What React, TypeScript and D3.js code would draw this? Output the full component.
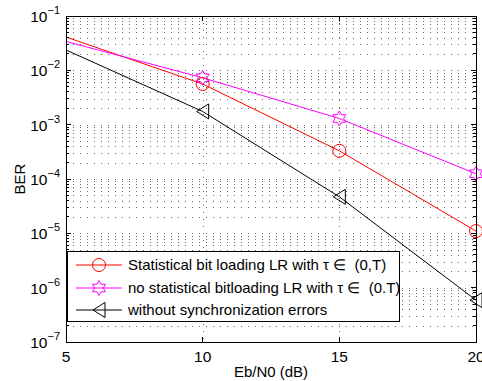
import * as d3 from 'd3';

// Eb/N0 (dB) sample points
const ebn0 = [5, 10, 15, 20];
const xTicks = [5, 10, 15, 20];
const yDecades = [-7, -6, -5, -4, -3, -2, -1];

// BER
const berStatistical = [0.041, 5.6e-3, 3.3e-4, 1.1e-5];
const berNoStatistical = [0.034, 7.3e-3, 1.3e-3, 1.25e-4];
const berNoSync = [0.0237, 1.75e-3, 4.7e-5, 5.9e-7];

const seriesNames = [
  'Statistical bit loading LR with τ ∈\u00a0 (0,T)',
  'no statistical bitloading LR with τ ∈\u00a0 (0.T)',
  'without synchronization errors',
];

const W = 482;
const H = 381;
const FONT = 'Liberation Sans, Arial, Helvetica, sans-serif';

const x = d3.scaleLinear().domain([5, 20]).range([66, 476]);
const y = d3.scaleLog().domain([1e-7, 1e-1]).range([342, 16]);

function hexagram(r: number) {
  const pts: [number, number][] = [];
  for (let i = 0; i < 12; i++) {
    const a = -Math.PI / 2 + (i * Math.PI) / 6;
    const rr = i % 2 === 0 ? r : r / Math.sqrt(3);
    pts.push([rr * Math.cos(a), rr * Math.sin(a)]);
  }
  return 'M' + pts.map(p => p.join(',')).join('L') + 'Z';
}

const triLeft = 'M-6,0L6,-7.5L6,7.5Z';

type Marker = 'circle' | 'hexagram' | 'triangle';

function MarkerShape({ kind, color, cx, cy }: { kind: Marker; color: string; cx: number; cy: number }) {
  if (kind === 'circle') {
    return <circle cx={cx} cy={cy} r={6.5} fill="none" stroke={color} strokeWidth={1} />;
  }
  const d = kind === 'hexagram' ? hexagram(7.5) : triLeft;
  return <path d={d} transform={`translate(${cx},${cy})`} fill="none" stroke={color} strokeWidth={1} />;
}

const series = [
  { name: seriesNames[0], values: berStatistical, color: '#ff0000', marker: 'circle' as Marker },
  { name: seriesNames[1], values: berNoStatistical, color: '#ff00ff', marker: 'hexagram' as Marker },
  { name: seriesNames[2], values: berNoSync, color: '#000000', marker: 'triangle' as Marker },
];

export default function App() {
  const [x0, x1] = x.range();
  const [y0, y1] = y.range();
  const line = d3.line<number>()
    .x((_, i) => x(ebn0[i]))
    .y(d => y(d));

  const minorY: number[] = [];
  yDecades.slice(0, -1).forEach(e => {
    for (let k = 2; k <= 9; k++) minorY.push(k * Math.pow(10, e));
  });
  const majorY = yDecades.map(e => Math.pow(10, e));

  const legendX = 67;
  const legendY = 251;
  const rowY = [265, 288, 310];

  return (
    <svg width={W} height={H} style={{ position: 'fixed', left: 0, top: 0, background: '#fff' }} fontFamily={FONT}>
      <rect x={0} y={0} width={W} height={H} fill="#fff" />
      {/* grid */}
      <g stroke="#666" strokeWidth={1} strokeDasharray="1,6" fill="none">
        {[...majorY, ...minorY].map((v, i) => (
          <line key={'h' + i} x1={x0} x2={x1} y1={Math.round(y(v)) + 0.5} y2={Math.round(y(v)) + 0.5} />
        ))}
        {xTicks.slice(1, -1).map(t => (
          <line key={'v' + t} x1={Math.round(x(t)) + 0.5} x2={Math.round(x(t)) + 0.5} y1={y1} y2={y0} />
        ))}
      </g>
      {/* curves */}
      {series.map(s => (
        <path key={s.name} d={line(s.values) || ''} fill="none" stroke={s.color} strokeWidth={1} />
      ))}
      {series.map(s =>
        s.values.map((v, i) =>
          ebn0[i] > 5 ? <MarkerShape key={s.name + i} kind={s.marker} color={s.color} cx={x(ebn0[i])} cy={y(v)} /> : null
        )
      )}
      {/* axes box and ticks */}
      <g stroke="#000" strokeWidth={1} fill="none" shapeRendering="crispEdges">
        <rect x={x0} y={y1} width={x1 - x0} height={y0 - y1} />
        {xTicks.map(t => (
          <g key={'xt' + t}>
            <line x1={x(t)} x2={x(t)} y1={y0} y2={y0 - 5} />
            <line x1={x(t)} x2={x(t)} y1={y1} y2={y1 + 5} />
          </g>
        ))}
        {majorY.map((v, i) => (
          <g key={'yt' + i}>
            <line x1={x0} x2={x0 + 5} y1={y(v)} y2={y(v)} />
            <line x1={x1} x2={x1 - 5} y1={y(v)} y2={y(v)} />
          </g>
        ))}
        {minorY.map((v, i) => (
          <g key={'ym' + i}>
            <line x1={x0} x2={x0 + 3} y1={y(v)} y2={y(v)} />
            <line x1={x1} x2={x1 - 3} y1={y(v)} y2={y(v)} />
          </g>
        ))}
      </g>
      {/* tick labels */}
      <g fill="#000" fontSize={15.5}>
        {xTicks.map(t => (
          <text key={'xl' + t} x={x(t)} y={362} textAnchor="middle">{t}</text>
        ))}
        {yDecades.map(e => (
          <text key={'yl' + e} x={60} y={y(Math.pow(10, e)) + 6} textAnchor="end">
            <tspan>10</tspan>
            <tspan dy={-8} fontSize={11}>{'−' + Math.abs(e)}</tspan>
          </text>
        ))}
      </g>
      {/* axis labels */}
      <text x={(x0 + x1) / 2} y={377} textAnchor="middle" fontSize={15} fill="#000">Eb/N0 (dB)</text>
      <text transform={`translate(25,${(y0 + y1) / 2}) rotate(-90)`} textAnchor="middle" fontSize={15} fill="#000">BER</text>
      {/* legend */}
      <rect x={legendX} y={legendY} width={332} height={70} fill="#fff" stroke="#000" strokeWidth={1} shapeRendering="crispEdges" />
      {series.map((s, i) => (
        <g key={'lg' + i}>
          <line x1={76} x2={122} y1={rowY[i]} y2={rowY[i]} stroke={s.color} strokeWidth={1} />
          <MarkerShape kind={s.marker} color={s.color} cx={99} cy={rowY[i]} />
          <text x={128} y={rowY[i]} dy="0.35em" fontSize={15} fill="#000" style={{ whiteSpace: 'pre' }}>{s.name}</text>
        </g>
      ))}
    </svg>
  );
}
